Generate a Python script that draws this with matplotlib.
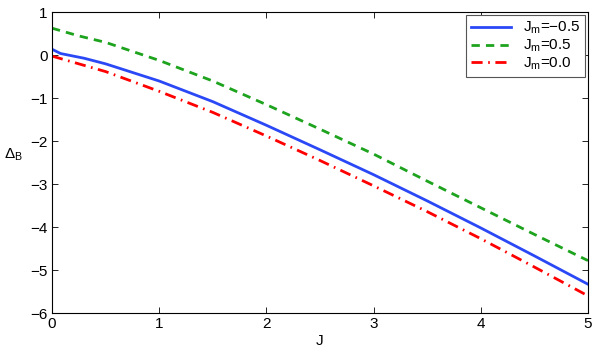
import matplotlib
matplotlib.use('Agg')
import matplotlib.pyplot as plt

plt.rcParams['font.family'] = ['Liberation Sans', 'DejaVu Sans']
plt.rcParams['mathtext.default'] = 'regular'

# valores
J_azul = [0, 0.08, 0.3, 0.5, 1, 1.5, 2, 2.5, 3, 3.5, 4, 4.5, 5]
delta_azul = [0.14, 0.04, -0.07, -0.2, -0.6, -1.08, -1.63, -2.2, -2.78, -3.39, -4.02, -4.67, -5.33]

J_verde = [0, 0.25, 0.5, 1, 1.5, 2, 2.5, 3, 3.5, 4, 4.5, 5]
delta_verde = [0.63, 0.45, 0.30, -0.12, -0.6, -1.15, -1.72, -2.3, -2.93, -3.55, -4.17, -4.78]

J_vermelho = [0, 0.25, 0.5, 1, 1.5, 2, 2.5, 3, 3.5, 4, 4.5, 5]
delta_vermelho = [-0.02, -0.2, -0.38, -0.84, -1.33, -1.88, -2.45, -3.04, -3.64, -4.27, -4.93, -5.6]

fig = plt.figure(figsize=(5.99, 3.54), dpi=100)
ax = fig.add_axes([0.0868, 0.1158, 0.8948, 0.8495])

ax.plot(J_azul, delta_azul, color='#2a48f5', lw=2.0, label='J$_m$=\u22120.5')
ax.plot(J_verde, delta_verde, color='#1ea31e', lw=2.0, ls=(0, (3, 2.2)), label='J$_m$=0.5')
ax.plot(J_vermelho, delta_vermelho, color='#ff0000', lw=2.0, ls=(0, (4, 2, 0.6, 2)), label='J$_m$=0.0')

ax.set_xlim(0, 5)
ax.set_ylim(-6, 1)
ax.set_xticks([0, 1, 2, 3, 4, 5])
ax.set_yticks([-6, -5, -4, -3, -2, -1, 0, 1])
ax.set_yticklabels(['\u22126', '\u22125', '\u22124', '\u22123', '\u22122', '\u22121', '0', '1'])
ax.tick_params(direction='in', top=True, right=True, labelsize=11, length=4, width=0.6, pad=3)
for s in ax.spines.values():
    s.set_linewidth(0.8)

ax.set_xlabel('J', fontsize=11, labelpad=2)
ax.set_ylabel('$\\Delta_B$', fontsize=11, rotation=0, labelpad=12)

leg = ax.legend(loc='upper right', fontsize=11, fancybox=False, framealpha=1,
                edgecolor='#555555', handlelength=2.6, labelspacing=0.1,
                borderpad=0.3, borderaxespad=0.2)
leg.get_frame().set_linewidth(0.8)

fig.savefig('out.png', dpi=100)
